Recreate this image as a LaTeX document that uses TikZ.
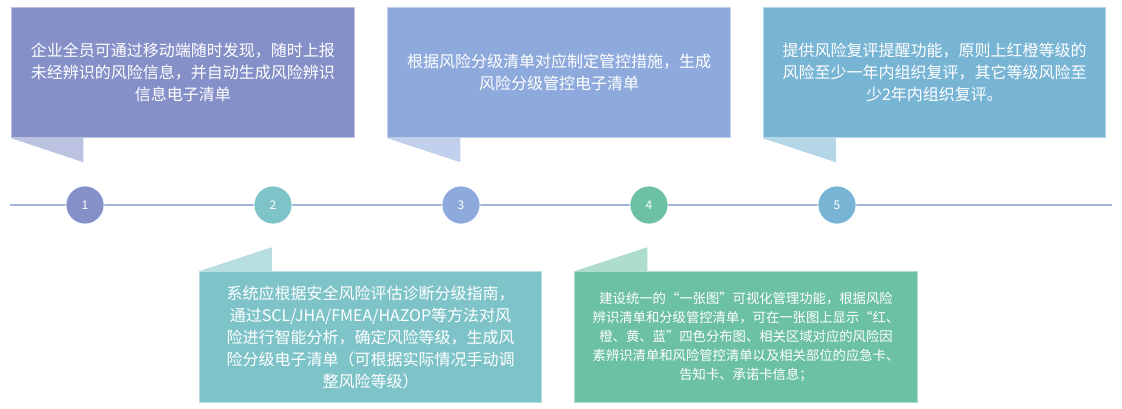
\documentclass[tikz,border=0pt]{standalone}
\usepackage{fontspec}
\setmainfont{Noto Sans CJK SC}
\definecolor{stepA}{HTML}{8690C8}
\definecolor{stepB}{HTML}{7DC3C8}
\definecolor{stepC}{HTML}{8EAADC}
\definecolor{stepD}{HTML}{6CC0A6}
\definecolor{stepE}{HTML}{78B5D4}
\definecolor{axis}{HTML}{A3B4DC}

\begin{document}
\begin{tikzpicture}[x=0.75pt, y=-0.75pt,
  card/.style={fill=#1, draw=#1!55!white, line width=0.6pt, minimum width=257pt,
    minimum height=98pt, inner sep=0pt, align=center, text=white,
    font=\fontsize{12}{16.5}\selectfont},
  dot/.style={circle, fill=#1, draw=white, line width=0.5pt, minimum size=28.5pt,
    inner sep=0pt, text=white, font=\fontsize{9}{9}\selectfont}]
\useasboundingbox (0,0) rectangle (1122,409);
% time axis
\coordinate (lft) at (10,205);
\coordinate (rgt) at (1112,205);
\draw[axis, line width=1.1pt] (lft) -- (rgt);
\node[dot=stepA] (n1) at (85,205) {1};
\node[dot=stepB] (n2) at (273,205) {2};
\node[dot=stepC] (n3) at (461,205) {3};
\node[dot=stepD] (n4) at (649,205) {4};
\node[dot=stepE] (n5) at (837,205) {5};
% cards above
\node[card=stepA] (b1) at (183,72.5) {企业全员可通过移动端随时发现，随时上报\\未经辨识的风险信息，并自动生成风险辨识\\信息电子清单};
\fill[stepA!55!white] (b1.south west) -- ++(72,0) -- ++(0,24) -- cycle;
\node[card=stepC] (b3) at (559,72.5) {根据风险分级清单对应制定管控措施，生成\\风险分级管控电子清单};
\fill[stepC!55!white] (b3.south west) -- ++(73,0) -- ++(0,24) -- cycle;
\node[card=stepE] (b5) at (934.5,72.5) {提供风险复评提醒功能，原则上红橙等级的\\风险至少一年内组织复评，其它等级风险至\\少2年内组织复评。};
\fill[stepE!55!white] (b5.south west) -- ++(73,0) -- ++(0,24) -- cycle;
% cards below
\node[card=stepB] (b2) at (370.5,337) {系统应根据安全风险评估诊断分级指南，\\通过SCL/JHA/FMEA/HAZOP等方法对风\\险进行智能分析，确定风险等级，生成风\\险分级电子清单（可根据实际情况手动调\\整风险等级）};
\fill[stepB!55!white] (b2.north west) -- ++(73,0) -- ++(0,-24) -- cycle;
\node[card=stepD, font=\fontsize{10}{14.2}\selectfont] (b4) at (746,337) {建设统一的“一张图”可视化管理功能，根据风险\\辨识清单和分级管控清单，可在一张图上显示“红、\\橙、黄、蓝”四色分布图、相关区域对应的风险因\\素辨识清单和风险管控清单以及相关部位的应急卡、\\告知卡、承诺卡信息；};
\fill[stepD!55!white] (b4.north west) -- ++(73,0) -- ++(0,-24) -- cycle;
\end{tikzpicture}
\end{document}
